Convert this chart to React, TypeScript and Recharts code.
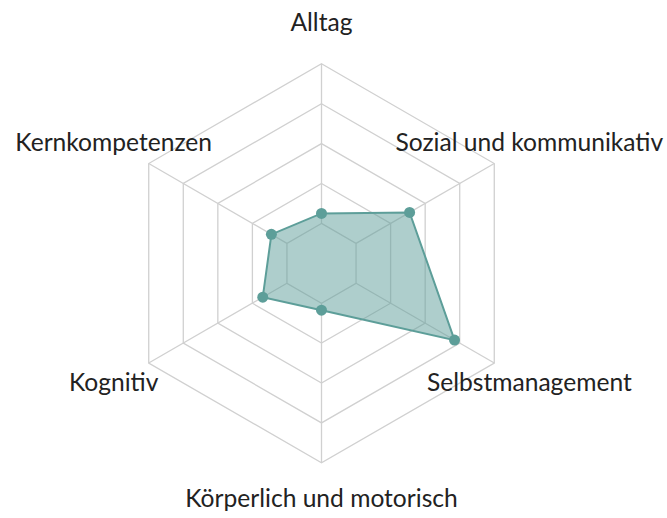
import React from 'react';
import { RadarChart, Radar, PolarGrid, PolarAngleAxis, PolarRadiusAxis } from 'recharts';

const categories = [
  'Alltag',
  'Sozial und kommunikativ',
  'Selbstmanagement',
  'Körperlich und motorisch',
  'Kognitiv',
  'Kernkompetenzen',
];
const values = [25, 51, 77, 23.5, 34, 29];
const radiusTicks = [20, 40, 60, 80, 100];

const data = categories.map((c, i) => ({ subject: c, value: values[i] }));

const CX = 321.5;
const CY = 263.3;
const OUTER = 199.5;
const LABEL_R = 240;

const renderTick = (props: any) => {
  const { x, y, payload } = props;
  const dx = x - CX;
  const dy = y - CY;
  const len = Math.sqrt(dx * dx + dy * dy) || 1;
  const tx = CX + (dx / len) * LABEL_R;
  let ty = CY + (dy / len) * LABEL_R - 2;
  if (dy / len > 0.99) ty -= 4;
  return (
    <text
      x={tx}
      y={ty}
      textAnchor="middle"
      dominantBaseline="central"
      fill="#222"
      fontFamily="Lato"
      fontSize={24.6}
    >
      {payload.value}
    </text>
  );
};

export default function App() {
  return (
    <div style={{ position: 'absolute', left: 0, top: 0, width: 667, height: 518, background: '#fff' }}>
      <RadarChart
        width={667}
        height={518}
        data={data}
        cx={CX}
        cy={CY}
        innerRadius={OUTER / 5}
        outerRadius={OUTER}
        margin={{ top: 0, right: 0, bottom: 0, left: 0 }}
      >
        <PolarGrid gridType="polygon" stroke="#d0d0d0" strokeWidth={1.3} />
        <PolarAngleAxis dataKey="subject" tick={renderTick} tickLine={false} axisLine={false} />
        <PolarRadiusAxis
          domain={[20, 100]}
          ticks={radiusTicks}
          tickCount={5}
          tick={false}
          axisLine={false}
        />
        <Radar
          dataKey="value"
          stroke="#5d9e99"
          strokeWidth={2}
          fill="#5d9e99"
          fillOpacity={0.5}
          dot={{ r: 5.5, fill: '#5d9e99', stroke: '#5d9e99', strokeWidth: 0, fillOpacity: 1 }}
          isAnimationActive={false}
        />
      </RadarChart>
    </div>
  );
}
